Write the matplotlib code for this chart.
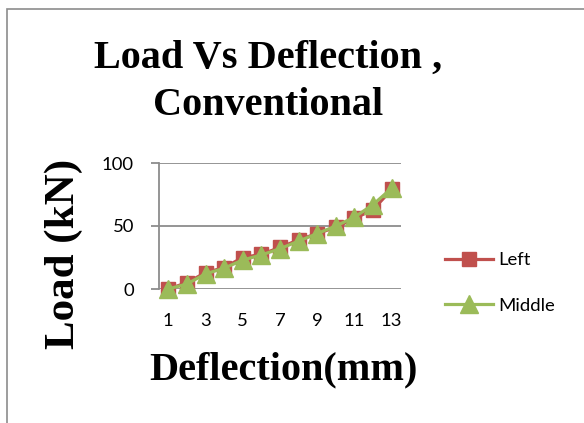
import matplotlib.pyplot as plt
from matplotlib.patches import Rectangle

# data
deflection = [1, 2, 3, 4, 5, 6, 7, 8, 9, 10, 11, 12, 13]
load_left = [0, 5, 13, 17, 25, 27.5, 33, 39, 44, 49, 56, 63, 79]
load_middle = [0, 4, 12, 16.5, 23, 27, 32, 38, 44, 50, 57, 67, 80]
xtick_labels = ['1', '3', '5', '7', '9', '11', '13']
title_lines = ['Load Vs Deflection ,', 'Conventional']

fig = plt.figure(figsize=(5.84, 4.23), dpi=100)
fig.patches.append(Rectangle((7/584, -0.1), 1.2, 1 - 9/423 + 0.1, transform=fig.transFigure,
                             fill=False, edgecolor='#8c8c8c', linewidth=1.2))

ax = fig.add_axes([159/584, 134/423, 242/584, 126/423])

ax.plot(deflection, load_left, color='#C0504D', linewidth=2.3, marker='s',
        markersize=9.5, label='Left', zorder=3)
ax.plot(deflection, load_middle, color='#9BBB59', linewidth=2.3, marker='^',
        markersize=13, label='Middle', zorder=4)

ax.set_xlim(0.5, 13.5)
ax.set_ylim(0, 100)
ax.set_yticks([0, 50, 100])
ax.set_xticks([int(t) for t in xtick_labels])
ax.set_xticklabels(xtick_labels)
ax.grid(axis='y', color='#8c8c8c', linewidth=1.3)
ax.set_axisbelow(True)
for s in ['top', 'right', 'bottom']:
    ax.spines[s].set_visible(False)
ax.spines['left'].set_color('#8c8c8c')
ax.spines['left'].set_linewidth(1.3)
ax.tick_params(axis='y', length=6, color='#8c8c8c', width=1.3, pad=12)
ax.tick_params(axis='x', length=0, pad=17)
for lab in ax.get_xticklabels() + ax.get_yticklabels():
    lab.set_fontfamily('Lato')
    lab.set_fontsize(13.3)
for l in ax.lines:
    l.set_clip_on(False)

# title, two lines
for txt, yb in zip(title_lines, [68, 115]):
    fig.text(268/584, 1 - yb/423, txt, ha='center', va='baseline',
             fontfamily='Liberation Serif', fontweight='bold', fontsize=29)
fig.text(283/584, 1 - 370/423, 'Deflection(mm)', ha='center', va='center',
         fontfamily='Liberation Serif', fontweight='bold', fontsize=29)
fig.text(64/584, 1 - 254/423, 'Load (kN)', ha='center', va='center', rotation=90,
         fontfamily='Liberation Serif', fontweight='bold', fontsize=31)

leg = ax.legend(loc='center left', bbox_to_anchor=(428/584, 1 - 283/423),
                bbox_transform=fig.transFigure, frameon=False, handlelength=2.6,
                labelspacing=1.6, handletextpad=0.3, prop={'family': 'Lato', 'size': 13.3})

fig.savefig('out.png', dpi=100)
